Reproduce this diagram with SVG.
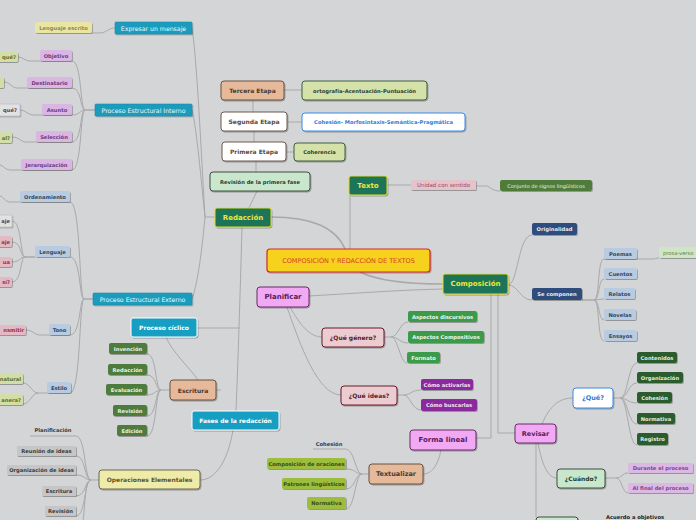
<svg xmlns="http://www.w3.org/2000/svg" width="696" height="520" viewBox="0 0 696 520">
<defs>
<filter id="sh" x="-10%" y="-20%" width="130%" height="160%">
<feDropShadow dx="0.8" dy="1" stdDeviation="0.6" flood-color="#000" flood-opacity="0.3"/>
</filter>
</defs>
<style>
text{font-family:"DejaVu Sans","Liberation Sans",sans-serif;text-anchor:middle;dominant-baseline:central;font-weight:bold;font-size:5.2px}
rect{filter:url(#sh)}
.c{fill:none;stroke:#a9a9ab;stroke-width:1}
.c2{fill:none;stroke:#a9a9ab;stroke-width:1.5}
.f6 text{font-size:6px}
.f65 text{font-size:6.5px}
.f7 text{font-size:7px}
.nw text{font-weight:normal}
.teal rect{fill:#1c9cbd;stroke:#178aa8;stroke-width:.6}.teal text{fill:#eef8fb;font-weight:normal;font-size:6.2px}
.tealw rect{fill:#169fc2;stroke:#fff;stroke-width:1}.tealw text{fill:#fff}
.pur rect{fill:#d9b6e3}.pur text{fill:#6c3c7c}
.yel rect{fill:#e9e5a2}.yel text{fill:#8c884f}
.lgr rect{fill:#d3dda6}.lgr text{fill:#5c6c2c}
.gry rect{fill:#e2e2e2;stroke:#b8b8b8;stroke-width:.6}.gry text{fill:#5a3a44}
.blu rect{fill:#b9cbe0}.blu text{fill:#34465e}
.pnk rect{fill:#e5b9c3}.pnk text{fill:#8c3448}
.dg rect{fill:#4e7b3e}.dg text{fill:#eaf2e2}
.tan rect{fill:#e5b999;stroke:#6a5242;stroke-width:1}.tan text{fill:#4a3a30}
.gr2 rect{fill:#c6c6c6}.gr2 text{fill:#3a3a3a}
.oe rect{fill:#efeba9;stroke:#6a6850;stroke-width:1}.oe text{fill:#5a5530}
.mg rect{fill:#1b7558;stroke:#e8da2c;stroke-width:1}.mg text{fill:#f3e63c}
.root rect{fill:#f6d21e;stroke:#d62828;stroke-width:1.2}.root text{fill:#d8402a;font-weight:normal;font-size:6.5px}
.lg2 rect{fill:#d4e2aa;stroke:#3e5e3e;stroke-width:1}.lg2 text{fill:#2e3e2e}
.wb rect{fill:#fff;stroke:#3a8ae6;stroke-width:1}.wb text{fill:#2e7ad6}
.we rect{fill:#fff;stroke:#6a5a4a;stroke-width:1}.we text{fill:#5a4a3a}
.mint rect{fill:#c9e7cd;stroke:#3e4e3e;stroke-width:1}.mint text{fill:#2a3a2a}
.uni rect{fill:#e6c3cb}.uni text{fill:#9a4a5c;font-weight:normal;font-size:5.5px}
.cj rect{fill:#507b3b}.cj text{fill:#eaf2e2;font-weight:normal;font-size:5px}
.db rect{fill:#2d4d7d}.db text{fill:#e4ecf6}
.pv rect{fill:#cfe6c4}.pv text{fill:#5a7a4a;font-weight:normal;text-anchor:start}
.vio rect{fill:#f2a9f4;stroke:#6a2a6a;stroke-width:1}.vio text{fill:#5a1a5a}
.qg rect{fill:#eaccd1;stroke:#6a1a2a;stroke-width:1}.qg text{fill:#5a1a2a}
.asp rect{fill:#3b9b49}.asp text{fill:#eef6ee}
.cmo rect{fill:#8b2b9d}.cmo text{fill:#f4e4f8}
.yg rect{fill:#9dbd3d}.yg text{fill:#3a4a1a}
.dk rect{fill:#2b5b2f}.dk text{fill:#e2eee2}
.lp rect{fill:#dcb9e5}.lp text{fill:#7a4a8a}
.edge text{text-anchor:end}
.lbl text{fill:#3a3a3a}
</style>
<rect x="0" y="0" width="696" height="520" fill="#d4d5d7" style="filter:none"/>

<g id="connectors">
<!-- Redacción left side -->
<path class="c" d="M92,33 H100 C106,33 108,28 115,28"/>
<path class="c" d="M215,217 H205"/>
<path class="c" d="M205,217 C201,150 197,60 192,28"/>
<path class="c" d="M205,217 C201,180 197,130 192,110"/>
<path class="c" d="M205,217 C201,260 197,285 192,299"/>
<!-- PEI children -->
<path class="c2" d="M95,110 H85"/>
<path class="c" d="M85,110 C80,110 82,61 72,61"/>
<path class="c" d="M85,110 C80,110 82,88 72,88"/>
<path class="c" d="M85,110 C80,110 80,115 72,115"/>
<path class="c" d="M85,110 C80,110 82,142 72,142"/>
<path class="c" d="M85,110 C80,110 82,170 72,170"/>
<path class="c" d="M72,61 H40 M40,61 H30 C25,61 23,57 18,57"/>
<path class="c" d="M72,88 H27 M27,88 H17 C12,88 10,82 4,82"/>
<path class="c" d="M72,115 H42 M42,115 H33 C28,115 26,110 20,110"/>
<path class="c" d="M72,142 H36 M36,142 H26 C21,142 19,137 12,137"/>
<path class="c" d="M72,170 H21 M21,170 H10 C5,170 3,165 0,165"/>
<!-- PEE children -->
<path class="c2" d="M93,299 H84"/>
<path class="c" d="M84,299 C79,299 81,202 70,202"/>
<path class="c" d="M84,299 C79,299 81,257 70,257"/>
<path class="c" d="M84,299 C79,299 81,335 70,335"/>
<path class="c" d="M84,299 C79,299 81,393 70,393"/>
<path class="c" d="M70,202 H20 M20,202 H10 C5,202 3,196 0,196"/>
<path class="c2" d="M35,257 H25"/>
<path class="c" d="M25,257 C20,257 22,221 12,221"/>
<path class="c" d="M25,257 C20,257 22,242 12,242"/>
<path class="c" d="M25,257 C20,257 20,262 12,262"/>
<path class="c" d="M25,257 C20,257 22,282 12,282"/>
<path class="c" d="M70,335 H49 M49,335 H40 C34,335 33,330 26,330"/>
<path class="c" d="M70,393 H47 M47,393 H38 C32,393 30,383 23,383"/>
<path class="c" d="M38,393 C32,393 30,404 23,404"/>
<!-- Redacción trunk -->
<path class="c" d="M242,227 C240,300 238,360 236,411"/>
<path class="c" d="M197,328 H240"/>
<path class="c" d="M166,337 C172,352 190,368 198,380"/>
<path class="c" d="M216,390 H221"/>
<path class="c" d="M233,430 C228,460 216,480 200,480"/>
<!-- Escritura children -->
<path class="c" d="M170,390 H161"/>
<path class="c" d="M161,390 C155,390 157,354 147,354"/>
<path class="c" d="M161,390 C155,390 157,375 147,375"/>
<path class="c" d="M161,390 C155,390 155,395 147,395"/>
<path class="c" d="M161,390 C155,390 157,416 147,416"/>
<path class="c" d="M161,390 C155,390 157,436 147,436"/>
<!-- Operaciones Elementales children -->
<path class="c" d="M99,480 H91"/>
<path class="c" d="M91,480 C84,480 86,436 76,436 H30"/>
<path class="c" d="M91,480 C84,480 86,456 76,456"/>
<path class="c" d="M91,480 C85,480 85,475 76,475"/>
<path class="c" d="M91,480 C85,480 86,496 76,496"/>
<path class="c" d="M91,480 C84,480 86,516 76,516"/>
<path class="c" d="M91,480 C85,480 85,505 83,522"/>
<!-- Etapas chain -->
<path class="c" d="M253,100 V112"/>
<path class="c" d="M254,131 V142"/>
<path class="c" d="M256,161 V172"/>
<path class="c" d="M257,191 L249,208"/>
<path class="c" d="M284,90 H302"/>
<path class="c" d="M287,122 H302"/>
<path class="c" d="M286,152 H294"/>
<!-- Root -->
<path class="c2" d="M345,249 C335,225 305,217 271,217"/>
<path class="c" d="M350,195 V249"/>
<path class="c2" d="M360,272 C380,282 410,284 443,284"/>
<path class="c" d="M387,185 H411"/>
<path class="c" d="M476,186 H486 C490,186 491,191 500,191"/>
<!-- Composición -->
<path class="c" d="M309,296 C360,293 400,290 443,289"/>
<path class="c" d="M508,285 C518,285 518,235 532,235"/>
<path class="c" d="M508,285 C518,285 520,300 532,300"/>
<path class="c2" d="M582,300 H594"/>
<path class="c" d="M594,300 C600,300 597,259 604,259 H637"/>
<path class="c" d="M594,300 C600,300 598,279 604,279"/>
<path class="c" d="M594,300 C599,300 599,299 604,299"/>
<path class="c" d="M594,300 C600,300 598,320 604,320"/>
<path class="c" d="M594,300 C600,300 597,341 604,341"/>
<path class="c" d="M637,259 H652 C655,259 656,258 659,258"/>
<path class="c" d="M491,294 V438 H476"/>
<path class="c" d="M498,294 V433 H515"/>
<!-- Planificar -->
<path class="c" d="M290,307 C300,325 310,337 322,337"/>
<path class="c" d="M287,307 C300,345 318,395 341,395"/>
<path class="c" d="M384,337 H391 C398,337 400,322 408,322"/>
<path class="c" d="M391,337 C398,337 400,343 408,343"/>
<path class="c" d="M391,337 C398,337 400,363 407,363"/>
<path class="c" d="M397,395 H404 C410,395 412,390 421,390"/>
<path class="c" d="M404,395 C410,395 412,410 421,410"/>
<!-- Forma lineal / Textualizar -->
<path class="c" d="M441,450 C438,465 432,474 423,474"/>
<path class="c" d="M369,474 H362"/>
<path class="c" d="M362,474 C355,474 355,449 345,449 H313"/>
<path class="c" d="M362,474 C355,474 356,469 346,469"/>
<path class="c" d="M362,474 C355,474 355,489 346,489"/>
<path class="c" d="M362,474 C355,474 355,509 346,509"/>
<!-- Revisar -->
<path class="c" d="M542,424 C550,405 560,398 573,398"/>
<path class="c" d="M538,443 C542,465 548,478 557,478"/>
<path class="c" d="M536,443 V517"/>
<path class="c" d="M613,398 H620"/>
<path class="c" d="M620,398 C628,398 628,363 637,363"/>
<path class="c" d="M620,398 C628,398 628,383 637,383"/>
<path class="c" d="M620,398 C627,398 628,403 637,403"/>
<path class="c" d="M620,398 C628,398 628,424 637,424"/>
<path class="c" d="M620,398 C628,398 628,445 637,445"/>
<path class="c" d="M605,478 H616 C622,478 622,473 628,473"/>
<path class="c" d="M616,478 C622,478 622,493 628,493"/>
</g>

<g id="n-lenguaje-escrito" class="yel"><rect x="35" y="22" width="57" height="11" rx="2"/><text x="63.5" y="27.5">Lenguaje escrito</text></g>
<g id="n-expresar" class="teal"><rect x="115" y="22" width="77" height="12" rx="1"/><text x="153.5" y="28">Expresar un mensaje</text></g>
<g id="n-objetivo" class="pur"><rect x="40" y="50" width="32" height="11" rx="2"/><text x="56" y="55.5">Objetivo</text></g>
<g id="n-p-obj" class="lgr edge"><rect x="-30" y="52" width="48" height="10" rx="2"/><text x="16" y="57">qué?</text></g>
<g id="n-destinatario" class="pur"><rect x="27" y="77" width="45" height="11" rx="2"/><text x="49.5" y="82.5">Destinatario</text></g>
<g id="n-p-dest" class="lgr"><rect x="-30" y="77" width="34" height="11" rx="2"/></g>
<g id="n-asunto" class="pur"><rect x="42" y="104" width="30" height="11" rx="2"/><text x="57" y="109.5">Asunto</text></g>
<g id="n-p-asu" class="gry edge"><rect x="-30" y="104" width="50" height="12" rx="1"/><text x="17" y="110">qué?</text></g>
<g id="n-seleccion" class="pur"><rect x="36" y="131" width="36" height="11" rx="2"/><text x="54" y="136.5">Selección</text></g>
<g id="n-p-sel" class="lgr edge"><rect x="-30" y="132" width="42" height="11" rx="2"/><text x="10" y="137.5">al?</text></g>
<g id="n-jerarquizacion" class="pur"><rect x="21" y="159" width="51" height="11" rx="2"/><text x="46.5" y="164.5">Jerarquización</text></g>
<g id="n-pei" class="teal"><rect x="95" y="104" width="97" height="12" rx="1"/><text x="143.5" y="110">Proceso Estructural Interno</text></g>

<g id="n-ordenamiento" class="blu"><rect x="20" y="191" width="50" height="11" rx="2"/><text x="45" y="196.5">Ordenamiento</text></g>
<g id="n-lenguaje" class="blu"><rect x="35" y="246" width="35" height="11" rx="2"/><text x="52.5" y="251.5">Lenguaje</text></g>
<g id="n-p-l1" class="gry edge"><rect x="-30" y="215" width="42" height="12" rx="1"/><text x="10" y="221">aje</text></g>
<g id="n-p-l2" class="pnk edge"><rect x="-30" y="236" width="42" height="11" rx="2"/><text x="10" y="241.5">aje</text></g>
<g id="n-p-l3" class="pnk edge"><rect x="-30" y="257" width="42" height="10" rx="2"/><text x="10" y="262">ua</text></g>
<g id="n-p-l4" class="pnk edge"><rect x="-30" y="277" width="42" height="10" rx="2"/><text x="10" y="282">sí?</text></g>
<g id="n-pee" class="teal"><rect x="93" y="293" width="99" height="12" rx="1"/><text x="142.5" y="299">Proceso Estructural Externo</text></g>
<g id="n-tono" class="blu"><rect x="49" y="324" width="21" height="11" rx="2"/><text x="59.5" y="329.5">Tono</text></g>
<g id="n-p-tono" class="pnk edge"><rect x="-30" y="325" width="56" height="10" rx="2"/><text x="24" y="330">nsmitir</text></g>
<g id="n-estilo" class="blu"><rect x="47" y="382" width="24" height="11" rx="2"/><text x="59" y="387.5">Estilo</text></g>
<g id="n-p-e1" class="lgr edge"><rect x="-30" y="373" width="53" height="11" rx="2"/><text x="21" y="378.5">natural</text></g>
<g id="n-p-e2" class="lgr edge"><rect x="-30" y="394" width="53" height="11" rx="2"/><text x="21" y="399.5">anera?</text></g>

<g id="n-planificacion" class="lbl"><text x="53" y="430">Planificación</text></g>
<g id="n-reunion" class="gr2"><rect x="17" y="446" width="59" height="10" rx="1"/><text x="46.5" y="451">Reunión de ideas</text></g>
<g id="n-organizacion-ideas" class="gr2"><rect x="7" y="465" width="69" height="10" rx="1"/><text x="41.5" y="470">Organización de ideas</text></g>
<g id="n-escritura-oe" class="gr2"><rect x="42" y="486" width="34" height="10" rx="1"/><text x="59" y="491">Escritura</text></g>
<g id="n-revision-oe" class="gr2"><rect x="45" y="506" width="31" height="10" rx="1"/><text x="60.5" y="511">Revisión</text></g>
<g id="n-oe" class="oe f6"><rect x="99" y="470" width="101" height="19" rx="3"/><text x="149.5" y="479.5">Operaciones Elementales</text></g>

<g id="n-proceso-ciclico" class="tealw f6"><rect x="131" y="318" width="66" height="19" rx="2"/><text x="164" y="327.5">Proceso cíclico</text></g>
<g id="n-invencion" class="dg"><rect x="109" y="343" width="38" height="11" rx="2"/><text x="128" y="348.5">Invención</text></g>
<g id="n-redaccion-e" class="dg"><rect x="108" y="364" width="39" height="11" rx="2"/><text x="127.5" y="369.5">Redacción</text></g>
<g id="n-evaluacion" class="dg"><rect x="106" y="384" width="41" height="11" rx="2"/><text x="126.5" y="389.5">Evaluación</text></g>
<g id="n-revision-e" class="dg"><rect x="113" y="405" width="34" height="11" rx="2"/><text x="130" y="410.5">Revisión</text></g>
<g id="n-edicion" class="dg"><rect x="117" y="425" width="30" height="11" rx="2"/><text x="132" y="430.5">Edición</text></g>
<g id="n-escritura" class="tan f6"><rect x="170" y="380" width="46" height="20" rx="3"/><text x="193" y="390">Escritura</text></g>
<g id="n-fases" class="tealw f6"><rect x="192" y="411" width="87" height="19" rx="2"/><text x="235.5" y="420.5">Fases de la redacción</text></g>

<g id="n-tercera" class="tan f6"><rect x="221" y="81" width="63" height="19" rx="3"/><text x="252.5" y="90.5">Tercera Etapa</text></g>
<g id="n-ortografia" class="lg2"><rect x="302" y="81" width="125" height="19" rx="3"/><text x="364.5" y="90.5">ortografía-Acentuación-Puntuación</text></g>
<g id="n-segunda" class="we f6"><rect x="221" y="112" width="66" height="19" rx="3"/><text x="254" y="121.5">Segunda Etapa</text></g>
<g id="n-cohesion-morf" class="wb"><rect x="302" y="113" width="163" height="18" rx="3"/><text x="383.5" y="122">Cohesión- Morfosintaxis-Semántica-Pragmática</text></g>
<g id="n-primera" class="we f6"><rect x="222" y="142" width="64" height="19" rx="3"/><text x="254" y="151.5">Primera Etapa</text></g>
<g id="n-coherencia" class="lg2"><rect x="294" y="143" width="51" height="18" rx="3"/><text x="319.5" y="152">Coherencia</text></g>
<g id="n-revision-pf" class="mint"><rect x="210" y="172" width="100" height="19" rx="3"/><text x="260" y="181.5">Revisión de la primera fase</text></g>
<g id="n-redaccion" class="mg f7"><rect x="215" y="208" width="56" height="19" rx="2"/><text x="243" y="217.5">Redacción</text></g>
<g id="n-texto" class="mg f7"><rect x="349" y="176" width="38" height="19" rx="2"/><text x="368" y="185.5">Texto</text></g>
<g id="n-unidad" class="uni"><rect x="411" y="180" width="65" height="10" rx="1"/><text x="443.5" y="185">Unidad con sentido</text></g>
<g id="n-conjunto" class="cj"><rect x="500" y="180" width="92" height="11" rx="2"/><text x="546" y="185.5">Conjunto de signos lingüísticos</text></g>
<g id="n-root" class="root"><rect x="267" y="249" width="163" height="23" rx="3"/><text x="348.5" y="260.5">COMPOSICIÓN Y REDACCIÓN DE TEXTOS</text></g>
<g id="n-composicion" class="mg f7"><rect x="443" y="274" width="65" height="20" rx="2"/><text x="475.5" y="284">Composición</text></g>
<g id="n-originalidad" class="db"><rect x="532" y="223" width="45" height="12" rx="2"/><text x="554.5" y="229">Originalidad</text></g>
<g id="n-se-componen" class="db"><rect x="532" y="288" width="50" height="12" rx="2"/><text x="557" y="294">Se componen</text></g>
<g id="n-poemas" class="blu"><rect x="604" y="248" width="33" height="11" rx="2"/><text x="620.5" y="253.5">Poemas</text></g>
<g id="n-prosa" class="pv"><rect x="659" y="247" width="45" height="11" rx="2"/><text x="663" y="252.5">prosa-verso</text></g>
<g id="n-cuentos" class="blu"><rect x="604" y="268" width="33" height="11" rx="2"/><text x="620.5" y="273.5">Cuentos</text></g>
<g id="n-relatos" class="blu"><rect x="604" y="288" width="31" height="11" rx="2"/><text x="619.5" y="293.5">Relatos</text></g>
<g id="n-novelas" class="blu"><rect x="604" y="309" width="32" height="11" rx="2"/><text x="620" y="314.5">Novelas</text></g>
<g id="n-ensayos" class="blu"><rect x="604" y="330" width="33" height="11" rx="2"/><text x="620.5" y="335.5">Ensayos</text></g>

<g id="n-planificar" class="vio f7"><rect x="257" y="287" width="52" height="20" rx="3"/><text x="283" y="297">Planificar</text></g>
<g id="n-que-genero" class="qg f6"><rect x="322" y="328" width="62" height="19" rx="3"/><text x="353" y="337.5">¿Qué género?</text></g>
<g id="n-asp-disc" class="asp"><rect x="408" y="311" width="69" height="11" rx="2"/><text x="442.5" y="316.5">Aspectos discursivos</text></g>
<g id="n-asp-comp" class="asp"><rect x="408" y="331" width="76" height="12" rx="2"/><text x="446" y="337">Aspectos Compositivos</text></g>
<g id="n-formato" class="asp"><rect x="407" y="352" width="33" height="11" rx="2"/><text x="423.5" y="357.5">Formato</text></g>
<g id="n-que-ideas" class="qg f6"><rect x="341" y="386" width="56" height="19" rx="3"/><text x="369" y="395.5">¿Qué ideas?</text></g>
<g id="n-activarlas" class="cmo"><rect x="421" y="379" width="52" height="11" rx="2"/><text x="447" y="384.5">Cómo activarlas</text></g>
<g id="n-buscarlas" class="cmo"><rect x="421" y="399" width="56" height="12" rx="2"/><text x="449" y="405">Cómo buscarlas</text></g>
<g id="n-forma-lineal" class="vio f7"><rect x="410" y="430" width="66" height="20" rx="3"/><text x="443" y="440">Forma lineal</text></g>
<g id="n-cohesion-t" class="lbl"><text x="329" y="443.5">Cohesión</text></g>
<g id="n-comp-oraciones" class="yg"><rect x="267" y="458" width="79" height="11" rx="2"/><text x="306.5" y="463.5">Composición de oraciones</text></g>
<g id="n-patrones" class="yg"><rect x="282" y="478" width="64" height="11" rx="2"/><text x="314" y="483.5">Patrones lingüísticos</text></g>
<g id="n-normativa-t" class="yg"><rect x="307" y="497" width="39" height="12" rx="2"/><text x="326.5" y="503">Normativa</text></g>
<g id="n-textualizar" class="tan f65"><rect x="369" y="464" width="54" height="20" rx="3"/><text x="396" y="474">Textualizar</text></g>

<g id="n-revisar" class="vio f65"><rect x="515" y="424" width="41" height="19" rx="3"/><text x="535.5" y="433.5">Revisar</text></g>
<g id="n-que" class="wb f65"><rect x="573" y="388" width="40" height="20" rx="3"/><text x="593" y="398">¿Qué?</text></g>
<g id="n-contenidos" class="dk"><rect x="637" y="352" width="40" height="11" rx="2"/><text x="657" y="357.5">Contenidos</text></g>
<g id="n-organizacion" class="dk"><rect x="637" y="372" width="46" height="11" rx="2"/><text x="660" y="377.5">Organización</text></g>
<g id="n-cohesion-r" class="dk"><rect x="637" y="392" width="35" height="11" rx="2"/><text x="654.5" y="397.5">Cohesión</text></g>
<g id="n-normativa-r" class="dk"><rect x="637" y="413" width="38" height="11" rx="2"/><text x="656" y="418.5">Normativa</text></g>
<g id="n-registro" class="dk"><rect x="637" y="433" width="31" height="12" rx="2"/><text x="652.5" y="439">Registro</text></g>
<g id="n-cuando" class="mint f6"><rect x="557" y="469" width="48" height="19" rx="3"/><text x="581" y="478.5">¿Cuándo?</text></g>
<g id="n-durante" class="lp"><rect x="628" y="463" width="65" height="10" rx="1"/><text x="660.5" y="468">Durante el proceso</text></g>
<g id="n-al-final" class="lp"><rect x="628" y="483" width="65" height="10" rx="1"/><text x="660.5" y="488">Al final del proceso</text></g>
<g id="n-bottom" class="mint"><rect x="536" y="517" width="42" height="12" rx="3"/></g>
<g id="n-acuerdo" class="lbl"><text x="606" y="516.5" style="text-anchor:start;fill:#222">Acuerdo a objetivos</text></g>
</svg>
